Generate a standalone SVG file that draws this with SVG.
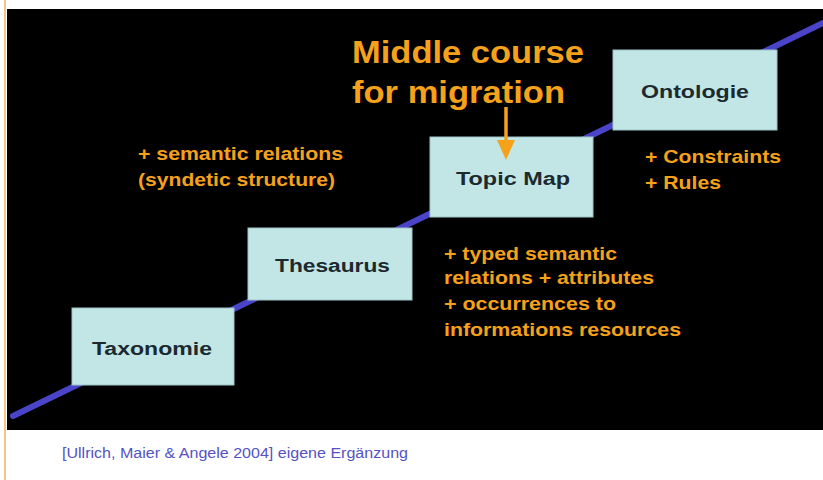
<svg xmlns="http://www.w3.org/2000/svg" width="823" height="480" viewBox="0 0 823 480">
<defs>
<style>
.box{fill:#c2e6e6;stroke:#9fc4c6;stroke-width:1}
.lbl{font-family:"Liberation Sans",Arial,sans-serif;font-weight:bold;font-size:18px;fill:#1c2a30}
.note{font-family:"Liberation Sans",Arial,sans-serif;font-weight:bold;font-size:19px;fill:#f5a21a}
.big{font-family:"Liberation Sans",Arial,sans-serif;font-weight:bold;font-size:32px;fill:#f5a21a}
</style>
</defs>
<rect x="0" y="0" width="823" height="480" fill="#ffffff"/>
<line x1="5" y1="0" x2="5" y2="480" stroke="#f5b060" stroke-width="1.5"/>
<rect x="7" y="9" width="816" height="421" fill="#000000"/>
<g id="connectors">
<line x1="13" y1="416" x2="823" y2="23" stroke="#4a44c8" stroke-width="6" stroke-linecap="round"/>
</g>
<g id="taxonomie">
<rect class="box" x="72" y="308" width="162" height="77"/>
<text class="lbl" x="92" y="355" textLength="120" lengthAdjust="spacingAndGlyphs">Taxonomie</text>
</g>
<g id="thesaurus">
<rect class="box" x="248" y="228" width="164" height="72"/>
<text class="lbl" x="275" y="272" textLength="115" lengthAdjust="spacingAndGlyphs">Thesaurus</text>
</g>
<g id="topicmap">
<rect class="box" x="430" y="137" width="163" height="80"/>
<text class="lbl" x="456" y="185" textLength="114" lengthAdjust="spacingAndGlyphs">Topic Map</text>
</g>
<g id="ontologie">
<rect class="box" x="613" y="50" width="164" height="80"/>
<text class="lbl" x="641" y="98" textLength="108" lengthAdjust="spacingAndGlyphs">Ontologie</text>
</g>
<g id="middle">
<text class="big" x="352" y="63" textLength="232" lengthAdjust="spacingAndGlyphs">Middle course</text>
<text class="big" x="352" y="103" textLength="213" lengthAdjust="spacingAndGlyphs">for migration</text>
<line x1="506" y1="107" x2="506" y2="142" stroke="#f5a21a" stroke-width="3.5"/>
<polygon points="497,140 515,140 506,160" fill="#f5a21a"/>
</g>
<g id="notes">
<text class="note" x="138" y="160" textLength="205" lengthAdjust="spacingAndGlyphs">+ semantic relations</text>
<text class="note" x="138" y="186" textLength="197" lengthAdjust="spacingAndGlyphs">(syndetic structure)</text>
<text class="note" x="645" y="163" textLength="136" lengthAdjust="spacingAndGlyphs">+ Constraints</text>
<text class="note" x="645" y="189" textLength="76" lengthAdjust="spacingAndGlyphs">+ Rules</text>
<text class="note" x="444" y="260" textLength="173" lengthAdjust="spacingAndGlyphs">+ typed semantic</text>
<text class="note" x="444" y="284" textLength="210" lengthAdjust="spacingAndGlyphs">relations + attributes</text>
<text class="note" x="444" y="310" textLength="172" lengthAdjust="spacingAndGlyphs">+ occurrences to</text>
<text class="note" x="444" y="336" textLength="237" lengthAdjust="spacingAndGlyphs">informations resources</text>
</g>
<text x="62" y="458" font-family="'Liberation Sans',Arial,sans-serif" font-size="14" fill="#5452c4" textLength="346" lengthAdjust="spacingAndGlyphs">[Ullrich, Maier &amp; Angele 2004] eigene Ergänzung</text>
</svg>
